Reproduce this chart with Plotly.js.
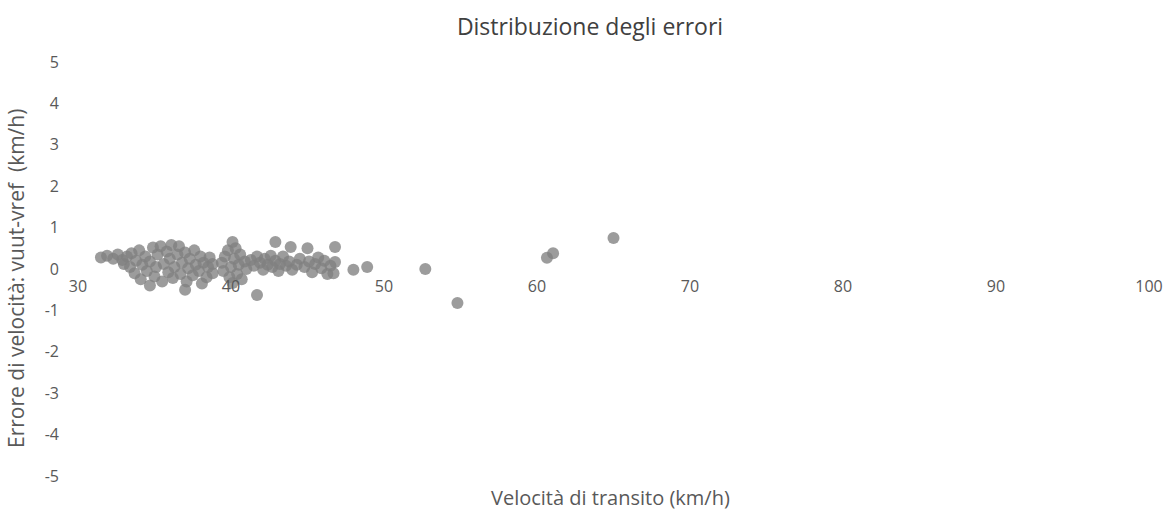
<!DOCTYPE html>
<html>
<head>
<meta charset="utf-8">
<script src="https://cdn.plot.ly/plotly-3.0.1.min.js"></script>
<style>html,body{margin:0;padding:0;background:#fff;}#chart{width:1173px;height:515px;}</style>
</head>
<body>
<div id="chart"></div>
<script>
// Velocità di transito (km/h)
var speedKmh = [
  31.5,31.9,32.3,32.6,32.9,33.2,33.0,
  33.4,33.5,33.7,33.8,34.0,34.1,34.2,34.4,34.5,34.7,34.7,34.9,35.0,35.1,35.2,35.4,35.5,35.6,35.8,35.9,
  36.0,36.1,36.2,36.3,36.5,36.6,36.7,36.8,37.0,37.0,37.1,37.2,37.3,37.5,37.6,37.7,37.9,38.0,38.1,38.2,
  38.4,38.5,38.6,38.8,38.8,
  39.4,39.5,39.6,39.8,39.9,40.0,40.1,40.1,40.2,40.3,40.4,40.5,40.6,40.7,40.9,41.0,
  41.7,
  41.3,41.5,41.7,41.9,42.1,42.2,42.4,42.6,42.7,42.9,42.9,43.1,43.2,43.4,43.6,43.9,43.8,44.0,44.3,44.5,
  45.0,44.8,45.1,45.3,45.5,45.7,45.9,46.1,46.3,46.5,46.8,46.8,46.7,
  48.0,48.9,52.7,54.8,60.65,61.05,65.0
];
// Errore di velocità: vuut-vref (km/h)
var speedError = [
  0.28,0.32,0.25,0.35,0.22,0.30,0.12,
  0.05,0.38,-0.10,0.20,0.45,-0.25,0.10,0.30,-0.05,-0.40,0.18,0.52,-0.18,0.05,0.35,0.55,-0.30,0.12,0.42,-0.08,
  0.25,0.58,-0.22,0.05,0.35,0.55,-0.12,0.15,-0.50,0.40,-0.30,0.02,0.25,-0.15,0.45,0.10,-0.05,0.30,-0.35,0.15,
  -0.20,0.05,0.28,-0.10,0.12,
  0.15,-0.05,0.30,0.45,-0.20,0.05,0.65,-0.34,0.25,0.50,-0.12,0.10,0.35,-0.25,0.18,0.00,
  -0.63,
  0.22,0.08,0.30,0.15,-0.02,0.25,0.10,0.32,0.05,0.65,0.20,-0.05,0.12,0.30,0.08,0.53,0.18,-0.02,0.10,0.25,
  0.50,0.05,0.18,-0.08,0.12,0.28,0.02,0.20,-0.12,0.08,0.53,0.17,-0.10,
  -0.02,0.05,0.00,-0.82,0.27,0.38,0.75
];
var xTickVals = [30,40,50,60,70,80,90,100];
var xTickText = ["30","40","50","60","70","80","90","100"];
var yTickVals = [-5,-4,-3,-2,-1,0,1,2,3,4,5];
var yTickText = ["-5","-4","-3","-2","-1","0","1","2","3","4","5"];

var fontFam = "Open Sans, sans-serif";
var txtCol = "#595959";

var trace = {
  type: "scatter",
  mode: "markers",
  x: speedKmh,
  y: speedError,
  marker: {size: 12, color: "rgba(128,128,128,0.78)", line: {width: 0}},
  hoverinfo: "x+y"
};

var layout = {
  width: 1173,
  height: 515,
  margin: {l: 78, r: 24, t: 62, b: 39},
  paper_bgcolor: "#ffffff",
  plot_bgcolor: "#ffffff",
  showlegend: false,
  font: {family: fontFam, color: txtCol},
  title: {
    text: "Distribuzione degli errori",
    x: 0.503, xref: "container", xanchor: "center",
    y: 0.948, yref: "container", yanchor: "middle",
    font: {family: fontFam, size: 23, color: "#404040"}
  },
  xaxis: {
    range: [30, 100],
    tickvals: xTickVals,
    ticktext: xTickText,
    anchor: "free",
    position: 0.5,
    showgrid: false,
    zeroline: false,
    showline: false,
    ticks: "",
    ticklabelstandoff: 6,
    tickfont: {family: fontFam, size: 16, color: txtCol}
  },
  yaxis: {
    range: [-5, 5],
    tickvals: yTickVals,
    ticktext: yTickText,
    showgrid: false,
    zeroline: false,
    showline: false,
    ticks: "",
    ticklabelstandoff: 18,
    tickfont: {family: fontFam, size: 16, color: txtCol}
  },
  annotations: [
    {
      text: "Velocità di transito (km/h)",
      xref: "paper", yref: "paper", x: 0.497, y: -0.051,
      xanchor: "center", yanchor: "middle", showarrow: false,
      font: {family: fontFam, size: 20, color: txtCol}
    },
    {
      text: "Errore di velocità: vuut-vref  (km/h)",
      xref: "paper", yref: "paper", x: -0.058, y: 0.478,
      xanchor: "center", yanchor: "middle", showarrow: false, textangle: -90,
      font: {family: fontFam, size: 21, color: txtCol}
    }
  ]
};

Plotly.newPlot("chart", [trace], layout, {staticPlot: true, displayModeBar: false});
</script>
</body>
</html>
